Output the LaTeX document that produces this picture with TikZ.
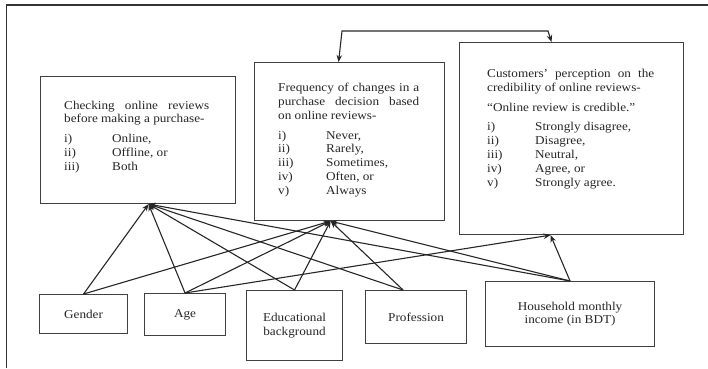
\documentclass[tikz,border=0pt]{standalone}
\usepackage{fontspec}
\setmainfont{Liberation Serif}[FakeStretch=1.1]
\usetikzlibrary{arrows.meta,calc}
\setlength{\parindent}{0pt}
\newcommand{\lab}[1]{\makebox[48pt][l]{#1}}
\begin{document}
\begin{tikzpicture}[x=1pt,y=-1pt,
 box/.style={draw=black!75, line width=1.1pt, anchor=north west, inner sep=0, align=center,
   font=\fontsize{12}{13.8}\selectfont, text=black!85},
 txt/.style={anchor=north west, inner sep=0, align=justify, text=black!85,
   font=\fontsize{12}{13.8}\selectfont},
 tip/.tip={Stealth[length=7pt,width=5.5pt]},
 conn/.style={draw=black!85, line width=1.1pt, -tip}
]
\useasboundingbox (0,0) rectangle (708,368);
\draw[line width=1.1pt, draw=black!80] (6.5,368) -- (6.5,5) -- (708,5);

% outcome boxes
\node[box, minimum width=195pt, minimum height=127pt] (A) at (40,76) {};
\node[box, minimum width=190pt, minimum height=158pt] (B) at (254,62) {};
\node[box, minimum width=224pt, minimum height=192pt] (C) at (459,42) {};

\node[txt, text width=145pt] (At) at (64,100.5)
 {Checking online reviews\linebreak before making a purchase-\par\vspace{6pt}
  \lab{i)}Online,\\\lab{ii)}Offline, or\\\lab{iii)}Both};
\node[txt, text width=141pt] (Bt) at (278,83)
 {Frequency of changes in a\linebreak purchase decision based\linebreak on online reviews-\par\vspace{6pt}
  \lab{i)}Never,\\\lab{ii)}Rarely,\\\lab{iii)}Sometimes,\\\lab{iv)}Often, or\\\lab{v)}Always};
\node[txt, text width=167pt] (Ct) at (487,69)
 {Customers’ perception on the\linebreak credibility of online reviews-\par\vspace{6pt}
  “Online review is credible.”\par\vspace{6pt}
  \lab{i)}Strongly disagree,\\\lab{ii)}Disagree,\\\lab{iii)}Neutral,\\\lab{iv)}Agree, or\\\lab{v)}Strongly agree.};

% demographic boxes
\node[box, minimum width=88pt, minimum height=39pt] (G) at (39,294) {Gender};
\node[box, minimum width=81pt, minimum height=42pt] (Ag) at (144,293) {Age};
\node[box, minimum width=96pt, minimum height=70pt] (E) at (246,290) {Educational\\background};
\node[box, minimum width=101pt, minimum height=53pt] (P) at (365,290) {Profession};
\node[box, minimum width=169pt, minimum height=65pt] (H) at (485,281) {Household monthly\\income (in BDT)};

\coordinate (Ain) at ($(A.south)+(10.5,0)$);
\coordinate (Bin) at ($(B.south)+(-19,0)$);
\coordinate (Cin) at ($(C.south)+(-21,0)$);
\coordinate (Pout) at ($(P.north)+(-13,0)$);

\foreach \s in {G.north, Ag.north, E.north, Pout, H.north}{
  \draw[conn] (\s) -- (Ain);
  \draw[conn] (\s) -- (Bin);
}
\draw[conn] (Ag.north) -- (Cin);
\draw[conn] (H.north) -- (Cin);

% top two-way connector
\coordinate (t1) at (342,31);
\coordinate (t2) at (548,31);
\draw[conn, tip-tip] ($(B.north)+(-11,0)$) -- (t1) -- (t2) -- ($(C.north)+(-20,0)$);
\end{tikzpicture}
\end{document}
